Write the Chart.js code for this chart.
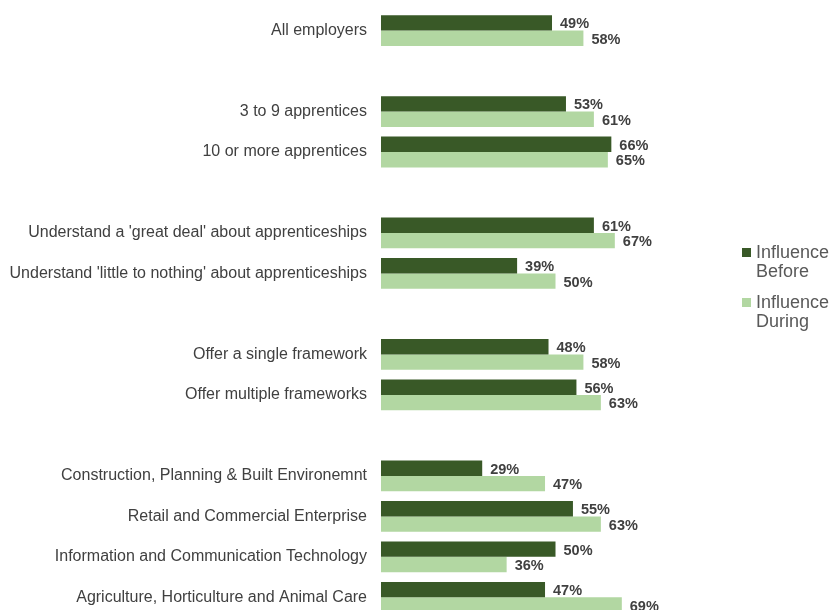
<!DOCTYPE html>
<html>
<head>
<meta charset="utf-8">
<script src="https://cdn.jsdelivr.net/npm/chart.js@4"></script>
<style>
  html, body { margin: 0; padding: 0; background: #fff; overflow: hidden; height: 610px; }
  canvas { display: block; }
</style>
</head>
<body>
<canvas id="chart" width="831" height="618"></canvas>
<script>
const categories = [
    'All employers', '',
    '3 to 9 apprentices', '10 or more apprentices', '',
    "Understand a 'great deal' about apprenticeships", "Understand 'little to nothing' about apprenticeships", '',
    'Offer a single framework', 'Offer multiple frameworks', '',
    'Construction, Planning & Built Environemnt', 'Retail and Commercial Enterprise',
    'Information and Communication Technology', 'Agriculture, Horticulture and Animal Care'
];
const influenceBefore = [49, null, 53, 66, null, 61, 39, null, 48, 56, null, 29, 55, 50, 47];
const influenceDuring = [58, null, 61, 65, null, 67, 50, null, 58, 63, null, 47, 63, 36, 69];
const seriesNames = [['Influence', 'Before'], ['Influence', 'During']];

const darkGreen = '#395927';
const lightGreen = '#b2d7a2';
const fontFamily = '"Liberation Sans", Arial, sans-serif';

// value labels at the end of each bar
const barLabels = {
    id: 'barLabels',
    afterDatasetsDraw(chart) {
        const ctx = chart.ctx;
        ctx.save();
        ctx.font = 'bold 14.5px ' + fontFamily;
        ctx.fillStyle = '#404040';
        ctx.textAlign = 'left';
        ctx.textBaseline = 'middle';
        chart.data.datasets.forEach((ds, i) => {
            chart.getDatasetMeta(i).data.forEach((bar, j) => {
                if (ds.data[j] == null) return;
                ctx.fillText(ds.data[j] + '%', bar.x + 8, bar.y + 1.5);
            });
        });
        ctx.restore();
    }
};

// legend on the right with wrapped names
const sideLegend = {
    id: 'sideLegend',
    afterDraw(chart) {
        const ctx = chart.ctx;
        ctx.save();
        ctx.font = '18px ' + fontFamily;
        ctx.textBaseline = 'alphabetic';
        chart.data.datasets.forEach((ds, i) => {
            const top = 248 + i * 50;
            ctx.fillStyle = ds.backgroundColor;
            ctx.fillRect(742, top, 9, 9);
            ctx.fillStyle = '#595959';
            seriesNames[i].forEach((line, k) => {
                ctx.fillText(line, 756, top + 10 + k * 19);
            });
        });
        ctx.restore();
    }
};

new Chart(document.getElementById('chart'), {
    type: 'bar',
    data: {
        labels: categories,
        datasets: [
            { label: 'Influence Before', data: influenceBefore, backgroundColor: darkGreen, categoryPercentage: 0.76, barPercentage: 1 },
            { label: 'Influence During', data: influenceDuring, backgroundColor: lightGreen, categoryPercentage: 0.76, barPercentage: 1 }
        ]
    },
    options: {
        indexAxis: 'y',
        responsive: false,
        animation: false,
        layout: { padding: { top: 10.3, bottom: 0, right: 101, left: 0 } },
        plugins: {
            legend: { display: false },
            tooltip: { enabled: false }
        },
        scales: {
            x: { min: 0, max: 100, display: false },
            y: {
                grid: { display: false, drawTicks: true, tickLength: 14 },
                border: { display: false },
                afterFit(scale) { scale.width = 381; },
                ticks: {
                    autoSkip: false,
                    padding: 0,
                    color: '#404040',
                    font: { size: 16, family: fontFamily, lineHeight: 0.05 }
                }
            }
        }
    },
    plugins: [barLabels, sideLegend]
});
</script>
</body>
</html>
